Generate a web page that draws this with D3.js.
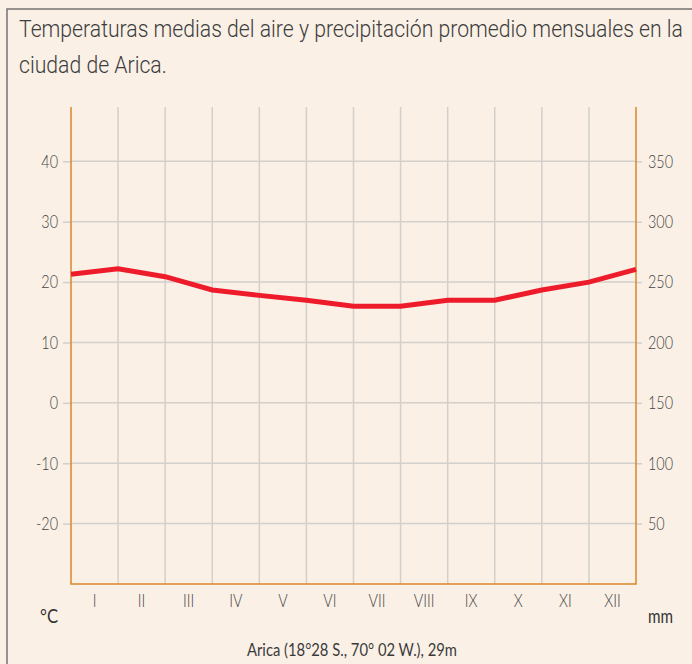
<!DOCTYPE html>
<html>
<head>
<meta charset="utf-8">
<script src="https://cdn.jsdelivr.net/npm/d3@7"></script>
<style>
  html, body { margin: 0; padding: 0; background: #faf0e6; }
  svg { display: block; }
  .tick text { font-family: Lato, sans-serif; font-weight: 300; fill: #444; }
</style>
</head>
<body>
<svg id="chart" width="692" height="664"></svg>
<script>
// Arica: temperature, 13 points (January repeated at the end)
const tempPoints = [21.3, 22.2, 20.9, 18.7, 17.8, 17.0, 16.0, 16.0, 17.0, 17.0, 18.7, 20.0, 22.1];
const months = ["I", "II", "III", "IV", "V", "VI", "VII", "VIII", "IX", "X", "XI", "XII"];
const tempTicks = [-20, -10, 0, 10, 20, 30, 40];
const mmTicks = [50, 100, 150, 200, 250, 300, 350];

const titleLines = [
  "Temperaturas medias del aire y precipitación promedio mensuales en la",
  "ciudad de Arica."
];
const caption = "Arica (18°28 S., 70° 02 W.), 29m";

const svg = d3.select("#chart");
const plotL = 71, plotR = 636, plotT = 107, plotB = 584;

const x = d3.scaleLinear().domain([0, 12]).range([plotL, plotR]);
const xMonth = d3.scaleBand().domain(months).range([plotL, plotR]);
const yTemp = d3.scaleLinear().domain([-30, 49]).range([plotB, plotT]);
const yMm = d3.scaleLinear().domain([0, 395]).range([plotB, plotT]);

// squeeze text horizontally (the original uses condensed faces)
function squeeze(sel, factor) {
  sel.each(function () {
    const w = this.getComputedTextLength();
    d3.select(this).attr("textLength", w * factor).attr("lengthAdjust", "spacingAndGlyphs");
  });
}

// frame
svg.append("rect")
  .attr("x", 7).attr("y", 9)
  .attr("width", 700).attr("height", 700)
  .attr("fill", "#faf0e6")
  .attr("stroke", "#7d7b79")
  .attr("stroke-width", 1.6);

// title, condensed with a horizontal scale
const titleG = svg.append("g");
const title = titleG.append("text")
  .attr("font-family", "Roboto, sans-serif")
  .attr("font-weight", 300)
  .attr("font-size", 23)
  .attr("fill", "#3c3c3c");
const t1 = title.append("tspan").attr("x", 0).attr("y", 37.5).text(titleLines[0]);
title.append("tspan").attr("x", 0).attr("y", 73).text(titleLines[1]);
const titleWidth = 664;
const titleFactor = titleWidth / t1.node().getComputedTextLength();
titleG.attr("transform", `translate(19,0) scale(${titleFactor},1)`);

// grid
svg.append("g")
  .selectAll("line")
  .data(tempTicks)
  .join("line")
  .attr("x1", plotL).attr("x2", plotR)
  .attr("y1", d => yTemp(d)).attr("y2", d => yTemp(d))
  .attr("stroke", "#d3cfcb").attr("stroke-width", 1.5);

svg.append("g")
  .selectAll("line")
  .data(d3.range(1, 12))
  .join("line")
  .attr("x1", d => x(d)).attr("x2", d => x(d))
  .attr("y1", plotT).attr("y2", plotB)
  .attr("stroke", "#d3cfcb").attr("stroke-width", 1.5);

// axes
const leftAxis = svg.append("g")
  .attr("transform", `translate(${plotL},0)`)
  .call(d3.axisLeft(yTemp).tickValues(tempTicks).tickFormat(d => String(d))
    .tickSize(8).tickPadding(5));
leftAxis.select(".domain").remove();

const rightAxis = svg.append("g")
  .attr("transform", `translate(${plotR},0)`)
  .call(d3.axisRight(yMm).tickValues(mmTicks).tickFormat(d => String(d))
    .tickSize(6).tickPadding(6));
rightAxis.select(".domain").remove();

const bottomAxis = svg.append("g")
  .attr("transform", `translate(0,${plotB})`)
  .call(d3.axisBottom(xMonth).tickSize(0).tickPadding(10));
bottomAxis.select(".domain").remove();

svg.selectAll(".tick line").attr("stroke", "#d3cfcb").attr("stroke-width", 1.5);
svg.selectAll(".tick text").attr("font-size", 18);
squeeze(svg.selectAll(".tick text"), 0.8);

// orange plot borders
const orange = "#d9862b";
svg.append("path")
  .attr("d", `M${plotL},${plotT}V${plotB}H${plotR}V${plotT}`)
  .attr("fill", "none")
  .attr("stroke", orange)
  .attr("stroke-width", 1.5);

// temperature line
const line = d3.line()
  .x((d, i) => x(i))
  .y(d => yTemp(d));

svg.append("path")
  .datum(tempPoints)
  .attr("d", line)
  .attr("fill", "none")
  .attr("stroke", "#ee1c2b")
  .attr("stroke-width", 5);

// unit labels and caption
svg.append("text").attr("x", 40).attr("y", 623)
  .attr("font-family", "Lato, sans-serif").attr("font-size", 19).attr("fill", "#333")
  .attr("textLength", 18).attr("lengthAdjust", "spacingAndGlyphs")
  .text("°C");
svg.append("text").attr("x", 648).attr("y", 623)
  .attr("font-family", "Lato, sans-serif").attr("font-size", 19).attr("fill", "#333")
  .attr("textLength", 25).attr("lengthAdjust", "spacingAndGlyphs")
  .text("mm");
svg.append("text").attr("x", 247).attr("y", 656)
  .attr("font-family", "Lato, sans-serif").attr("font-size", 17).attr("fill", "#3a3a3a")
  .attr("textLength", 210).attr("lengthAdjust", "spacingAndGlyphs")
  .text(caption);
</script>
</body>
</html>
